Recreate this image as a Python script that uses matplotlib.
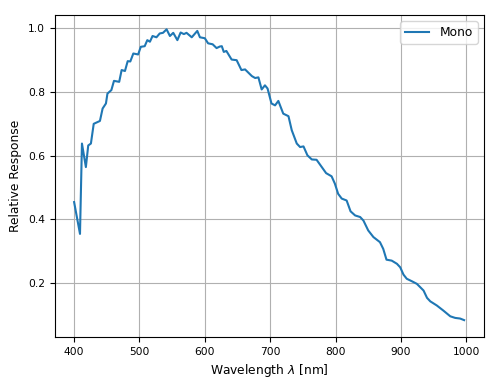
import matplotlib
matplotlib.use("Agg")
import matplotlib.pyplot as plt

# Wavelength samples [nm]
wavelength = [400, 409, 412, 418, 421.6, 425.7, 430, 439.5, 443.6, 448.7,
              451, 457, 461, 469, 472.7, 477.8, 482, 486, 490.6, 498,
              502, 508, 512, 516, 520, 526, 531, 536, 541.5, 546.6,
              551.7, 558, 563, 568, 572, 580, 588.5, 592.5, 600, 605,
              612, 618, 623, 626, 629, 633, 641, 648.7, 656, 661.6,
              672, 677, 682, 687, 692, 696, 702, 707.5, 712.5, 720,
              728, 733, 740.7, 745.8, 751, 757, 763.7, 771, 779, 785.6,
              794, 799, 804, 809.5, 817, 823, 830, 837.7, 842.7, 850,
              858, 868, 873, 878, 886, 894, 899, 904, 909, 917,
              924.5, 934.7, 940, 945, 955, 965, 975.6, 983, 990.6, 996.8]

# Relative response of the mono sensor
response = [0.454, 0.354, 0.638, 0.564, 0.632, 0.638, 0.700, 0.709, 0.748, 0.764,
            0.795, 0.806, 0.835, 0.832, 0.869, 0.866, 0.897, 0.896, 0.921, 0.918,
            0.942, 0.944, 0.963, 0.958, 0.976, 0.972, 0.984, 0.986, 0.997, 0.976,
            0.986, 0.963, 0.987, 0.982, 0.986, 0.972, 0.992, 0.972, 0.969, 0.953,
            0.950, 0.938, 0.943, 0.944, 0.926, 0.929, 0.902, 0.900, 0.869, 0.871,
            0.850, 0.844, 0.846, 0.808, 0.821, 0.811, 0.764, 0.758, 0.772, 0.732,
            0.724, 0.680, 0.638, 0.627, 0.629, 0.601, 0.588, 0.587, 0.564, 0.545,
            0.535, 0.512, 0.480, 0.465, 0.459, 0.425, 0.412, 0.407, 0.396, 0.365,
            0.344, 0.328, 0.307, 0.273, 0.270, 0.260, 0.249, 0.226, 0.213, 0.205,
            0.197, 0.176, 0.153, 0.142, 0.129, 0.113, 0.095, 0.090, 0.088, 0.083]

plt.rcParams['font.size'] = 7.7

fig = plt.figure(figsize=(4.92, 3.80), dpi=100)
ax = fig.add_axes([0.111, 0.1132, 0.872, 0.8473])

ax.plot(wavelength, response, color='#1f77b4', linewidth=1.5, label='Mono')
ax.set_ylim(0.03, 1.042)
ax.grid(True, color='#b0b0b0', linewidth=0.8)
ax.set_xlabel(r'Wavelength $\lambda$ [nm]', fontsize=8.8)
ax.set_ylabel('Relative Response', fontsize=8.8)
ax.legend(loc='upper right', fontsize=8.8)

fig.savefig('out.png', dpi=100)
